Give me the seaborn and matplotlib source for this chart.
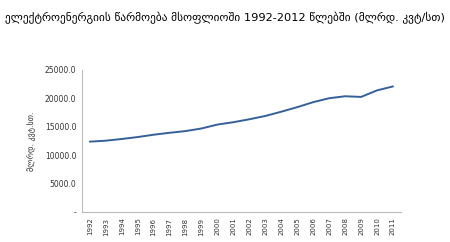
import matplotlib
matplotlib.use("Agg")
import matplotlib.pyplot as plt
import seaborn as sns
import pandas as pd

years = [str(y) for y in range(1992, 2012)]
production = [12380, 12550, 12850, 13190, 13600, 13940, 14240, 14700, 15390, 15800,
              16320, 16900, 17650, 18450, 19330, 20020, 20370, 20250, 21400, 22100]
yticks = [0, 5000, 10000, 15000, 20000, 25000]
ytick_labels = ["-", "5000.0", "10000.0", "15000.0", "20000.0", "25000.0"]
title = "ელექტროენერგიის წარმოება მსოფლიოში 1992-2012 წლებში (მლრდ. კვტ/სთ)"
ylabel = "მლრდ. კვტ.სთ."

sns.set_theme(style="white")
plt.rcParams['font.family'] = ['DejaVu Sans']

df = pd.DataFrame({"year": years, "value": production})

fig = plt.figure(figsize=(4.5, 2.42), dpi=100)
ax = fig.add_axes([0.182, 0.124, 0.709, 0.587])
sns.lineplot(data=df, x="year", y="value", ax=ax, color="#35609A", linewidth=1.4, sort=False)

ax.set_xlim(-0.5, len(years) - 0.5)
ax.set_ylim(0, 25000)
ax.set_yticks(yticks)
ax.set_yticklabels(ytick_labels, fontsize=5.5, color="#333333")
ax.tick_params(axis="x", labelrotation=90, labelsize=5, colors="#333333", length=0, pad=4)
ax.tick_params(axis="y", length=0, pad=4)
ax.set_xlabel("")
ax.set_ylabel(ylabel, fontsize=5.8, color="#333333", labelpad=6)

for s in ["top", "right"]:
    ax.spines[s].set_visible(False)
for s in ["left", "bottom"]:
    ax.spines[s].set_color("#BBBBBB")
    ax.spines[s].set_linewidth(0.8)

fig.text(0.012, 0.925, title, fontsize=8.2, color="black", ha="left", va="center")

fig.savefig("out.png", dpi=100)
